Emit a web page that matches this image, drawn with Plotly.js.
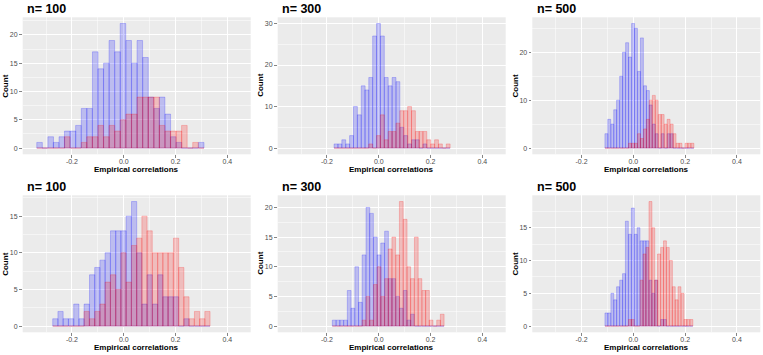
<!DOCTYPE html>
<html><head><meta charset="utf-8">
<script src="https://cdn.plot.ly/plotly-3.0.1.min.js"></script>
<style>html,body{margin:0;padding:0;background:#fff}#chart{width:763px;height:355px}</style>
</head><body><div id="chart"></div>
<script>
// ---------- data (bin centres, counts) ----------
const panelTitles = ["n= 100", "n= 300", "n= 500", "n= 100", "n= 300", "n= 500"];
const xAxisTitle = "Empirical correlations";
const yAxisTitle = "Count";
const xTickVals = [-0.2, 0, 0.2, 0.4];
const xTickText = ["-0.2", "0.0", "0.2", "0.4"];

const p1Centers = [-0.325,-0.304,-0.282,-0.261,-0.239,-0.218,-0.196,-0.175,-0.153,-0.132,-0.110,-0.089,-0.067,-0.046,-0.024,-0.003,0.019,0.041,0.062,0.084,0.105,0.127,0.148,0.170,0.191,0.213,0.234,0.256,0.277,0.299];
const p1Blue = [1,0,2,1,2,3,3,4,7,7,17,14,15,19,17,22,19,15,19,16,9,7,9,6,2,1,0,0,0,1];
const p1Red  = [0,0,0,0,0,2,0,0,1,2,2,4,2,4,3,5,6,6,9,9,9,9,4,3,3,3,4,0,1,0];
const p1BinWidth = 0.0215;

const p2Centers = [-0.165,-0.150,-0.135,-0.120,-0.105,-0.090,-0.075,-0.060,-0.046,-0.031,-0.016,-0.001,0.014,0.029,0.044,0.059,0.074,0.089,0.104,0.119,0.134,0.149,0.163,0.178,0.193,0.208,0.223,0.238,0.253,0.268];
const p2Blue = [1,1,2,1,3,10,8,15,14,17,27,30,27,17,15,17,16,5,3,1,2,2,0,1,0,0,0,0,0,0];
const p2Red  = [0,0,0,0,0,0,0,0,0,1,0,3,8,2,4,4,6,9,9,10,9,4,4,4,2,1,2,1,0,1];
const p2BinWidth = 0.0149;

const p3Centers = [-0.104,-0.093,-0.081,-0.070,-0.059,-0.047,-0.036,-0.024,-0.013,-0.001,0.010,0.022,0.033,0.045,0.056,0.067,0.079,0.090,0.102,0.113,0.125,0.136,0.148,0.159,0.171,0.182,0.193,0.205,0.216,0.228];
const p3Blue = [3,6,5,8,10,15,20,22,19,26,25,16,23,13,12,9,5,3,0,3,0,3,3,0,0,0,0,0,0,0];
const p3Red  = [0,0,0,0,0,0,0,0,1,1,1,3,2,4,6,10,11,10,7,7,5,6,5,3,1,1,0,1,1,1];
const p3BinWidth = 0.01145;

const p4Centers = [-0.264,-0.244,-0.224,-0.203,-0.183,-0.163,-0.143,-0.122,-0.102,-0.082,-0.062,-0.041,-0.021,-0.001,0.019,0.040,0.060,0.080,0.100,0.121,0.141,0.161,0.181,0.202,0.222,0.242,0.262,0.283,0.303,0.323];
const p4Blue = [1,2,1,1,3,1,3,7,8,9,10,13,13,13,15,17,10,3,7,3,7,4,4,4,0,1,0,0,0,0];
const p4Red  = [0,0,0,0,0,0,2,1,2,3,6,7,5,10,6,11,12,15,13,10,10,10,10,12,8,4,1,2,1,2];
const p4BinWidth = 0.0202;

const p5Centers = [-0.172,-0.157,-0.143,-0.128,-0.114,-0.100,-0.085,-0.071,-0.057,-0.042,-0.028,-0.013,0.001,0.015,0.030,0.044,0.058,0.073,0.087,0.102,0.116,0.130,0.145,0.159,0.174,0.188,0.202,0.217,0.231,0.245];
const p5Blue = [1,1,1,1,6,3,10,4,12,20,19,15,12,14,16,8,8,5,3,6,1,2,0,0,0,0,0,0,0,0];
const p5Red  = [0,0,0,0,0,0,0,0,1,5,1,7,10,5,8,13,15,12,21,18,10,8,15,8,6,6,1,0,1,2];
const p5BinWidth = 0.0144;

const p6Centers = [-0.104,-0.093,-0.081,-0.070,-0.059,-0.047,-0.036,-0.025,-0.013,-0.002,0.009,0.020,0.032,0.043,0.054,0.066,0.077,0.088,0.099,0.111,0.122,0.133,0.145,0.156,0.167,0.178,0.190,0.201,0.212,0.224];
const p6Blue = [2,2,5,4,6,7,8,16,14,18,14,15,13,13,13,7,5,7,0,1,1,0,0,0,0,0,0,0,0,0];
const p6Red  = [0,0,0,0,0,0,0,0,1,1,0,0,7,11,12,19,15,7,11,12,13,12,10,6,4,6,5,1,1,1];
const p6BinWidth = 0.0113;

const yTickVals = [[0,5,10,15,20],[0,10,20,30],[0,10,20],[0,5,10,15],[0,5,10,15,20],[0,5,10,15]];
const yMinorVals = [[2.5,7.5,12.5,17.5,22.5],[5,15,25],[5,15,25],[2.5,7.5,12.5,17.5],[2.5,7.5,12.5,17.5],[2.5,7.5,12.5,17.5]];
const yRanges = [[-1.1,23.1],[-1.5,31.5],[-1.3,27.3],[-0.85,17.85],[-1.05,22.05],[-0.95,19.95]];

// ---------- layout geometry ----------
const W = 763, H = 355;
const colX = [[22.7,250.7],[277.7,505.7],[532.3,760.3]];
const rowY = [[17.3,154.3],[195.3,332.3]];

const panels = [
  {c:p1Centers,b:p1Blue,r:p1Red,w:p1BinWidth},
  {c:p2Centers,b:p2Blue,r:p2Red,w:p2BinWidth},
  {c:p3Centers,b:p3Blue,r:p3Red,w:p3BinWidth},
  {c:p4Centers,b:p4Blue,r:p4Red,w:p4BinWidth},
  {c:p5Centers,b:p5Blue,r:p5Red,w:p5BinWidth},
  {c:p6Centers,b:p6Blue,r:p6Red,w:p6BinWidth}
];

const FONT = "Liberation Sans, Arial, Helvetica, sans-serif";
const traces = [];
const layout = {
  width: W, height: H,
  margin: {l:0, r:0, t:0, b:0},
  paper_bgcolor: "#ffffff",
  plot_bgcolor: "#EBEBEB",
  barmode: "overlay",
  showlegend: false,
  font: {family: FONT, size: 7, color: "#4D4D4D"},
  annotations: []
};

panels.forEach((p, k) => {
  const row = Math.floor(k / 3), col = k % 3;
  const sfx = k === 0 ? "" : String(k + 1);
  const xa = "x" + sfx, ya = "y" + sfx;
  traces.push({type:"bar", x:p.c, y:p.b, width:p.w, xaxis:xa, yaxis:ya,
    marker:{color:"rgba(0,0,255,0.2)", line:{color:"rgba(0,0,255,0.35)", width:0.6}}, hoverinfo:"skip"});
  traces.push({type:"bar", x:p.c, y:p.r, width:p.w, xaxis:xa, yaxis:ya,
    marker:{color:"rgba(255,0,0,0.2)", line:{color:"rgba(255,0,0,0.35)", width:0.6}}, hoverinfo:"skip"});

  const xd = [colX[col][0]/W, colX[col][1]/W];
  const yd = [(H - rowY[row][1])/H, (H - rowY[row][0])/H];
  layout["xaxis" + sfx] = {
    domain: xd, anchor: ya, range: [-0.39, 0.49],
    tickmode: "array", tickvals: xTickVals, ticktext: xTickText,
    ticks: "outside", ticklen: 2.7, tickwidth: 0.6, tickcolor: "#333333",
    ticklabelstandoff: -2,
    tickfont: {family: FONT, size: 7, color: "#4D4D4D"},
    showgrid: true, gridcolor: "#FFFFFF", gridwidth: 1,
    minor: {tickvals: [-0.3,-0.1,0.1,0.3], showgrid: true, gridcolor: "#FFFFFF", gridwidth: 0.5, ticks: ""},
    zeroline: false, showline: false, automargin: false, fixedrange: true
  };
  layout["yaxis" + sfx] = {
    domain: yd, anchor: xa, range: yRanges[k],
    tickmode: "array", tickvals: yTickVals[k], ticktext: yTickVals[k].map(String),
    ticks: "outside", ticklen: 2.7, tickwidth: 0.6, tickcolor: "#333333",
    tickfont: {family: FONT, size: 7, color: "#4D4D4D"},
    showgrid: true, gridcolor: "#FFFFFF", gridwidth: 1,
    minor: {tickvals: yMinorVals[k], showgrid: true, gridcolor: "#FFFFFF", gridwidth: 0.5, ticks: ""},
    zeroline: false, showline: false, automargin: false, fixedrange: true
  };

  const offX = col * 255 - (col === 2 ? 0.3 : 0);
  const offY = row * 178;
  layout.annotations.push({
    text: "<b>" + panelTitles[k] + "</b>", xref: "paper", yref: "paper",
    x: (colX[col][0] + 2.2)/W, y: (H - (offY + 8.7))/H, xanchor: "left", yanchor: "middle",
    showarrow: false, font: {family: FONT, size: 12.5, color: "#000000"}
  });
  layout.annotations.push({
    text: "<b>" + xAxisTitle + "</b>", xref: "paper", yref: "paper",
    x: (colX[col][0] + colX[col][1])/2/W, y: (H - (offY + 169.8))/H, xanchor: "center", yanchor: "middle",
    showarrow: false, borderpad: 0, font: {family: FONT, size: 8, color: "#000000"}
  });
  layout.annotations.push({
    text: "<b>" + yAxisTitle + "</b>", xref: "paper", yref: "paper", textangle: -90,
    x: (offX + 6)/W, y: (H - (offY + 85.8))/H, xanchor: "center", yanchor: "middle",
    showarrow: false, font: {family: FONT, size: 8, color: "#000000"}
  });
});

Plotly.newPlot("chart", traces, layout, {staticPlot: true, displayModeBar: false});
</script></body></html>
